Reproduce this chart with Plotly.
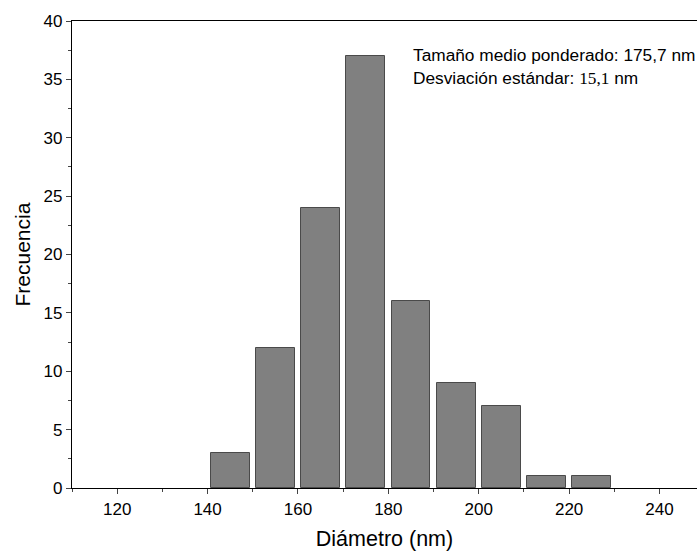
import plotly.graph_objects as go

diametro = [145, 155, 165, 175, 185, 195, 205, 215, 225]
frecuencia = [3, 12, 24, 37, 16, 9, 7, 1, 1]
x_ticks = [120, 140, 160, 180, 200, 220, 240]
y_ticks = [0, 5, 10, 15, 20, 25, 30, 35, 40]

fig = go.Figure()
fig.add_trace(go.Bar(
    x=diametro, y=frecuencia, width=8.6,
    marker=dict(color="#808080", line=dict(color="#4a4a4a", width=1)),
))

font = "Liberation Sans, Arial, sans-serif"
fig.update_layout(
    width=697, height=554,
    margin=dict(l=72, r=0, t=21, b=66, autoexpand=False),
    plot_bgcolor="white", paper_bgcolor="white",
    showlegend=False,
    font=dict(family=font, color="black"),
    bargap=0,
)
fig.update_xaxes(
    range=[110, 248.3], tickvals=x_ticks, ticks="outside", ticklen=5, tickwidth=1.3,
    showline=True, linecolor="black", linewidth=1.3, mirror=True, showgrid=False, zeroline=False,
    tickfont=dict(size=17, family=font), automargin=False,
    minor=dict(ticks="outside", ticklen=3, dtick=10, tick0=110, tickwidth=1.3, showgrid=False),
    title=dict(text="Diámetro (nm)", font=dict(size=21.5, family=font), standoff=13),
)
fig.update_yaxes(
    range=[0, 40], tickvals=y_ticks, ticks="outside", ticklen=5, tickwidth=1.3,
    showline=True, linecolor="black", linewidth=1.3, showgrid=False, zeroline=False,
    tickfont=dict(size=17, family=font), automargin=False,
    minor=dict(ticks="outside", ticklen=3, dtick=2.5, tick0=0, tickwidth=1.3, showgrid=False),
)
fig.add_annotation(
    xref="paper", yref="paper", x=0, y=0.5, xanchor="center", yanchor="middle",
    xshift=-50, textangle=-90,
    text="Frecuencia", showarrow=False, font=dict(size=21, family=font),
)
fig.add_annotation(
    xref="paper", yref="paper", x=0.5426, y=0.927, xanchor="left", yanchor="middle",
    text="Tamaño medio ponderado: 175,7 nm", showarrow=False, font=dict(size=17.3, family=font),
)
fig.add_annotation(
    xref="paper", yref="paper", x=0.5426, y=0.877, xanchor="left", yanchor="middle",
    text="Desviación estándar: <span style='font-family:Liberation Serif, Times New Roman, serif'>15,1</span> nm",
    showarrow=False, font=dict(size=17.3, family=font),
)
fig.write_html(
    "out.html",
    config={"displayModeBar": False},
    post_script="document.body.style.margin='0';document.body.style.overflow='hidden';",
)
